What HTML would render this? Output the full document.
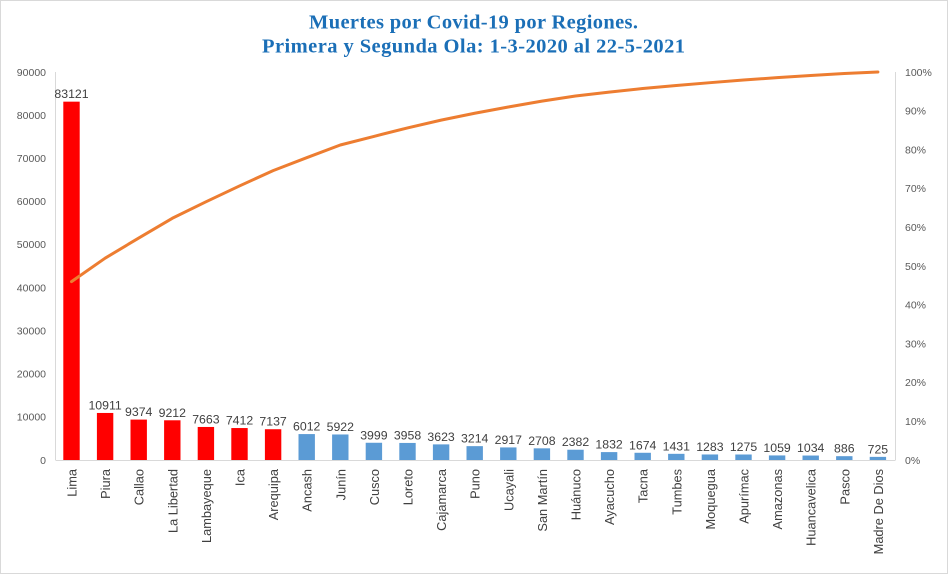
<!DOCTYPE html>
<html><head><meta charset="utf-8"><style>
html,body{margin:0;padding:0;background:#fff;}
svg{display:block;}
.t{font-family:"Times New Roman","Liberation Serif",serif;font-weight:bold;font-size:20.5px;fill:#1b6fb7;}
.ax{font-family:"Liberation Sans",sans-serif;font-size:10.5px;fill:#595959;}
.dl{font-family:"Liberation Sans",sans-serif;font-size:12.3px;fill:#404040;text-anchor:middle;}
.xl{font-family:"Liberation Sans",sans-serif;font-size:12.8px;fill:#404040;text-anchor:end;}
</style></head><body>
<svg width="949" height="575" viewBox="0 0 949 575" xmlns="http://www.w3.org/2000/svg">
<rect x="0.5" y="0.5" width="947" height="573" fill="#fff" stroke="#d9d9d9" stroke-width="1"/>
<text class="t" x="473.5" y="28.5" text-anchor="middle" textLength="329" lengthAdjust="spacing">Muertes por Covid-19 por Regiones.</text>
<text class="t" x="473.5" y="52.5" text-anchor="middle" textLength="423" lengthAdjust="spacing">Primera y Segunda Ola: 1-3-2020 al 22-5-2021</text>

<line x1="55.5" y1="72" x2="55.5" y2="460" stroke="#d9d9d9"/>
<line x1="895.5" y1="72" x2="895.5" y2="460" stroke="#d9d9d9"/>
<line x1="55.5" y1="460.5" x2="895.5" y2="460.5" stroke="#d9d9d9"/>

<g class="ax" text-anchor="end">
<text x="46" y="463.8">0</text>
<text x="46" y="420.7">10000</text>
<text x="46" y="377.6">20000</text>
<text x="46" y="334.5">30000</text>
<text x="46" y="291.4">40000</text>
<text x="46" y="248.2">50000</text>
<text x="46" y="205.1">60000</text>
<text x="46" y="162">70000</text>
<text x="46" y="118.9">80000</text>
<text x="46" y="75.8">90000</text>
</g>
<g class="ax" text-anchor="start">
<text x="905" y="463.8">0%</text>
<text x="905" y="425">10%</text>
<text x="905" y="386.2">20%</text>
<text x="905" y="347.4">30%</text>
<text x="905" y="308.6">40%</text>
<text x="905" y="269.8">50%</text>
<text x="905" y="231">60%</text>
<text x="905" y="192.2">70%</text>
<text x="905" y="153.4">80%</text>
<text x="905" y="114.6">90%</text>
<text x="905" y="75.8">100%</text>
</g>

<g fill="#ff0000">
<rect x="63.3" y="101.66" width="16.4" height="358.34"/>
<rect x="96.9" y="412.96" width="16.4" height="47.04"/>
<rect x="130.5" y="419.59" width="16.4" height="40.41"/>
<rect x="164.1" y="420.29" width="16.4" height="39.71"/>
<rect x="197.7" y="426.96" width="16.4" height="33.04"/>
<rect x="231.3" y="428.05" width="16.4" height="31.95"/>
<rect x="264.9" y="429.23" width="16.4" height="30.77"/>
</g>
<g fill="#5b9bd5">
<rect x="298.5" y="434.08" width="16.4" height="25.92"/>
<rect x="332.1" y="434.47" width="16.4" height="25.53"/>
<rect x="365.7" y="442.76" width="16.4" height="17.24"/>
<rect x="399.3" y="442.94" width="16.4" height="17.06"/>
<rect x="432.9" y="444.38" width="16.4" height="15.62"/>
<rect x="466.5" y="446.14" width="16.4" height="13.86"/>
<rect x="500.1" y="447.42" width="16.4" height="12.58"/>
<rect x="533.7" y="448.33" width="16.4" height="11.67"/>
<rect x="567.3" y="449.73" width="16.4" height="10.27"/>
<rect x="600.9" y="452.10" width="16.4" height="7.90"/>
<rect x="634.5" y="452.78" width="16.4" height="7.22"/>
<rect x="668.1" y="453.83" width="16.4" height="6.17"/>
<rect x="701.7" y="454.47" width="16.4" height="5.53"/>
<rect x="735.3" y="454.50" width="16.4" height="5.50"/>
<rect x="768.9" y="455.43" width="16.4" height="4.57"/>
<rect x="802.5" y="455.54" width="16.4" height="4.46"/>
<rect x="836.1" y="456.18" width="16.4" height="3.82"/>
<rect x="869.7" y="456.87" width="16.4" height="3.13"/>
</g>

<polyline fill="none" stroke="#ed7d31" stroke-width="3" stroke-linejoin="round" stroke-linecap="round"
points="71.5,281.59 105.1,258.17 138.7,238.05 172.3,218.28 205.9,201.83 239.5,185.92 273.1,170.60 306.7,157.70 340.3,144.99 373.9,136.40 407.5,127.91 441.1,120.13 474.7,113.23 508.3,106.97 541.9,101.16 575.5,96.04 609.1,92.11 642.7,88.52 676.3,85.45 709.9,82.69 743.5,79.96 777.1,77.68 810.7,75.47 844.3,73.56 877.9,72.00"/>

<g class="dl">
<text x="71.5" y="98.2">83121</text>
<text x="105.1" y="409.5">10911</text>
<text x="138.7" y="416.1">9374</text>
<text x="172.3" y="416.8">9212</text>
<text x="205.9" y="423.5">7663</text>
<text x="239.5" y="424.6">7412</text>
<text x="273.1" y="425.7">7137</text>
<text x="306.7" y="430.6">6012</text>
<text x="340.3" y="431">5922</text>
<text x="373.9" y="439.3">3999</text>
<text x="407.5" y="439.4">3958</text>
<text x="441.1" y="440.9">3623</text>
<text x="474.7" y="442.6">3214</text>
<text x="508.3" y="443.9">2917</text>
<text x="541.9" y="444.8">2708</text>
<text x="575.5" y="446.2">2382</text>
<text x="609.1" y="448.6">1832</text>
<text x="642.7" y="449.3">1674</text>
<text x="676.3" y="450.3">1431</text>
<text x="709.9" y="451">1283</text>
<text x="743.5" y="451">1275</text>
<text x="777.1" y="451.9">1059</text>
<text x="810.7" y="452">1034</text>
<text x="844.3" y="452.7">886</text>
<text x="877.9" y="453.4">725</text>
</g>

<g class="xl">
<text transform="translate(76.5,469) rotate(-90)">Lima</text>
<text transform="translate(110.1,469) rotate(-90)">Piura</text>
<text transform="translate(143.7,469) rotate(-90)">Callao</text>
<text transform="translate(177.3,469) rotate(-90)">La Libertad</text>
<text transform="translate(210.9,469) rotate(-90)">Lambayeque</text>
<text transform="translate(244.5,469) rotate(-90)">Ica</text>
<text transform="translate(278.1,469) rotate(-90)">Arequipa</text>
<text transform="translate(311.7,469) rotate(-90)">Ancash</text>
<text transform="translate(345.3,469) rotate(-90)">Junín</text>
<text transform="translate(378.9,469) rotate(-90)">Cusco</text>
<text transform="translate(412.5,469) rotate(-90)">Loreto</text>
<text transform="translate(446.1,469) rotate(-90)">Cajamarca</text>
<text transform="translate(479.7,469) rotate(-90)">Puno</text>
<text transform="translate(513.3,469) rotate(-90)">Ucayali</text>
<text transform="translate(546.9,469) rotate(-90)">San Martín</text>
<text transform="translate(580.5,469) rotate(-90)">Huánuco</text>
<text transform="translate(614.1,469) rotate(-90)">Ayacucho</text>
<text transform="translate(647.7,469) rotate(-90)">Tacna</text>
<text transform="translate(681.3,469) rotate(-90)">Tumbes</text>
<text transform="translate(714.9,469) rotate(-90)">Moquegua</text>
<text transform="translate(748.5,469) rotate(-90)">Apurímac</text>
<text transform="translate(782.1,469) rotate(-90)">Amazonas</text>
<text transform="translate(815.7,469) rotate(-90)">Huancavelica</text>
<text transform="translate(849.3,469) rotate(-90)">Pasco</text>
<text transform="translate(882.9,469) rotate(-90)">Madre De Dios</text>
</g>
</svg>
</body></html>
